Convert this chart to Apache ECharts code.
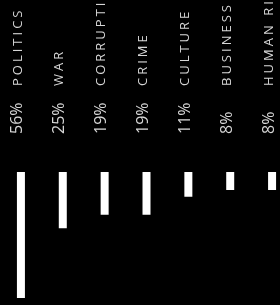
<!DOCTYPE html>
<html>
<head>
<meta charset="utf-8">
<script src="https://cdn.jsdelivr.net/npm/echarts@6/dist/echarts.min.js"></script>
<style>
  html, body { margin: 0; padding: 0; background: #000; }
  #chart { width: 280px; height: 305px; }
</style>
</head>
<body>
<div id="chart"></div>
<script>
var topics = ['POLITICS', 'WAR', 'CORRUPTION', 'CRIME', 'CULTURE', 'BUSINESS', 'HUMAN RIGHTS'];
var shares = [56, 25, 19, 19, 11, 8, 8];

var chart = echarts.init(document.getElementById('chart'));

// letters drawn one token each so they can be tracked out like the original
function spaced(word) {
  return word.split('').map(function (ch) { return '{c|' + ch + '}'; }).join('');
}

chart.setOption({
  backgroundColor: '#000',
  animation: false,
  grid: { left: 0, right: -13, top: 172, bottom: 7, containLabel: false, outerBoundsMode: 'none' },
  xAxis: {
    type: 'category',
    position: 'top',
    data: topics,
    axisLine: { show: false },
    axisTick: { show: false },
    axisLabel: {
      interval: 0,
      rotate: 90,
      margin: 38,
      padding: [0, 0, 6, 0],
      hideOverlap: false,
      formatter: function (value, idx) {
        return '{p|' + shares[idx] + '%}' + spaced(value);
      },
      rich: {
        p: { fontFamily: 'Open Sans', fontSize: 16, color: '#d6d6d6', width: 48 },
        c: { fontFamily: 'Open Sans', fontSize: 13, color: '#d6d6d6', padding: [0, 3, 0, 0] }
      }
    }
  },
  yAxis: {
    type: 'value',
    inverse: true,
    min: 0,
    max: 56,
    show: false,
    splitLine: { show: false }
  },
  series: [{
    type: 'bar',
    data: shares,
    barWidth: 8,
    itemStyle: { color: '#fff' }
  }]
});
</script>
</body>
</html>
